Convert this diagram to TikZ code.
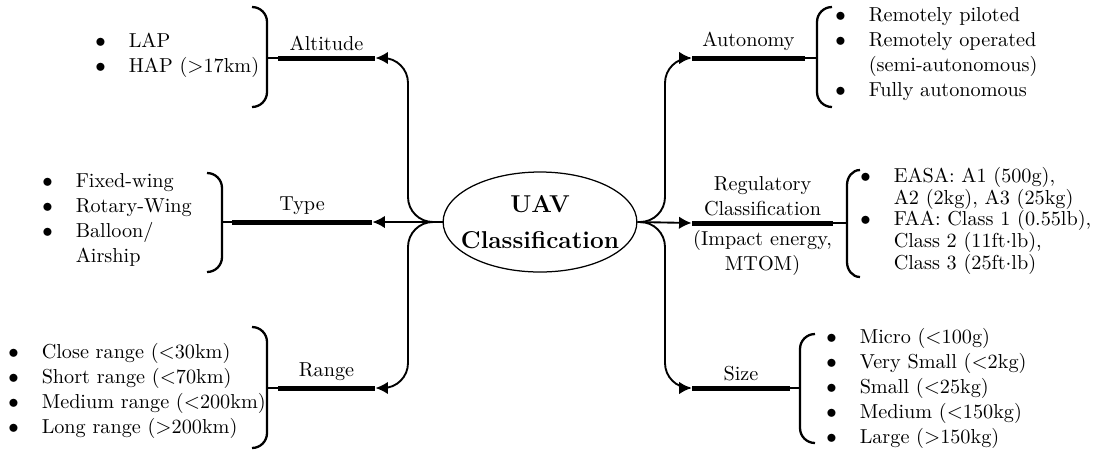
\documentclass[tikz,border=0pt]{standalone}
\usetikzlibrary{shapes.geometric,arrows.meta,positioning}
\begin{document}
\begin{tikzpicture}[x=0.48pt,y=-0.48pt,
  every node/.style={font=\fontsize{9.7}{12}\selectfont},
  hub/.style={ellipse,draw,line width=0.6pt,minimum width=93pt,minimum height=48pt,inner sep=0pt},
  hubtext/.style={align=center,inner sep=0pt,font=\fontsize{11.7}{14}\selectfont\bfseries},
  bar/.style={rectangle,fill=black,draw=none,inner sep=0pt,minimum height=2.4pt},
  conn/.style={line width=0.9pt,-{Latex[length=6pt,width=6pt]},rounded corners=12pt},
  link/.style={line width=0.6pt},
  brace/.style={line width=1.1pt},
  lbl/.style={inner sep=2pt,align=center},
  lst/.style={inner sep=0pt,anchor=west,align=left}]
\useasboundingbox (0,0) rectangle (1096,453);

% central node
\node[hub] (uav) at (540,222) {};
\node[hubtext] (uavtext) at (uav.center) {UAV\\[3pt]Classification};

% category bars
\node[bar,minimum width=46.6pt] (altbar)   at (326.5,58)  {};
\node[bar,minimum width=67.2pt] (typebar)  at (302,222)   {};
\node[bar,minimum width=46.6pt] (rangebar) at (326.5,388) {};
\node[bar,minimum width=54.2pt] (autbar)   at (748.5,58)  {};
\node[bar,minimum width=67.7pt] (regbar)   at (762.5,223) {};
\node[bar,minimum width=47pt]   (sizebar)  at (741,388)   {};

% category labels
\node[lbl,above=0pt of altbar]   (altlbl)   {Altitude};
\node[lbl,above=0pt of typebar]  (typelbl)  {Type};
\node[lbl,above=0pt of rangebar] (rangelbl) {Range};
\node[lbl,above=0pt of autbar]   (autlbl)   {Autonomy};
\node[lbl,above=0pt of regbar]   (reglbl)   {Regulatory\\Classification};
\node[lbl,below=0pt of regbar]   (regsub)   {(Impact energy,\\MTOM)};
\node[lbl,above=0pt of sizebar]  (sizelbl)  {Size};

% turning points of the curved connectors
\coordinate (lv) at (408,222);
\coordinate (rv) at (665,222);

% connectors from the hub
\draw[conn] (uav.west) -- (typebar.east);
\draw[conn] (uav.west) -- (lv) |- (altbar.east);
\draw[conn] (uav.west) -- (lv) |- (rangebar.east);
\draw[conn] (uav.east) -- (regbar.west);
\draw[conn] (uav.east) -- (rv) |- (autbar.west);
\draw[conn] (uav.east) -- (rv) |- (sizebar.west);

% brace tips
\coordinate (altbr)   at (267,58);
\coordinate (typebr)  at (222,222);
\coordinate (rangebr) at (267,388);
\coordinate (autbr)   at (817,58);
\coordinate (regbr)   at (847,223);
\coordinate (sizebr)  at (800,388);

\draw[link] (altbar.west)   -- (altbr);
\draw[link] (typebar.west)  -- (typebr);
\draw[link] (rangebar.west) -- (rangebr);
\draw[link] (autbar.east)   -- (autbr);
\draw[link] (regbar.east)   -- (regbr);
\draw[link] (sizebar.east)  -- (sizebr);

% braces (closing on the left, opening on the right)
\draw[brace] (252,7) to[out=0,in=90] (267,22) -- (267,92) to[out=-90,in=0] (252,107);
\draw[brace] (207,173) to[out=0,in=90] (222,188) -- (222,257) to[out=-90,in=0] (207,272);
\draw[brace] (252,327) to[out=0,in=90] (267,342) -- (267,433) to[out=-90,in=0] (252,448);
\draw[brace] (832,7) to[out=180,in=90] (817,22) -- (817,92) to[out=-90,in=180] (832,107);
\draw[brace] (860,170) to[out=180,in=90] (847,185) -- (847,262) to[out=-90,in=180] (860,277);
\draw[brace] (815,334) to[out=180,in=90] (800,349) -- (800,428) to[out=-90,in=180] (815,443);

% item lists
\node[lst] (altlist) at (95,54.5) {\begin{tabular}{@{}c@{\hspace{11pt}}l@{}}
  $\bullet$ & LAP\\
  $\bullet$ & HAP ($>$17km)
\end{tabular}};
\node[lst] (typelist) at (42,219.5) {\begin{tabular}{@{}c@{\hspace{11pt}}l@{}}
  $\bullet$ & Fixed-wing\\
  $\bullet$ & Rotary-Wing\\
  $\bullet$ & Balloon/\\
            & Airship
\end{tabular}};
\node[lst] (rangelist) at (8,390.5) {\begin{tabular}{@{}c@{\hspace{11pt}}l@{}}
  $\bullet$ & Close range ($<$30km)\\
  $\bullet$ & Short range ($<$70km)\\
  $\bullet$ & Medium range ($<$200km)\\
  $\bullet$ & Long range ($>$200km)
\end{tabular}};
\node[lst] (autlist) at (835,53.5) {\begin{tabular}{@{}c@{\hspace{11pt}}l@{}}
  $\bullet$ & Remotely piloted\\
  $\bullet$ & Remotely operated\\
            & (semi-autonomous)\\
  $\bullet$ & Fully autonomous
\end{tabular}};
\node[lst] (reglist) at (860,221.5) {\def\arraystretch{0.87}\begin{tabular}{@{}c@{\hspace{11pt}}l@{}}
  $\bullet$ & EASA: A1 (500g),\\
            & A2 (2kg), A3 (25kg)\\
  $\bullet$ & FAA: Class 1 (0.55lb),\\
            & Class 2 (11ft$\cdot$lb),\\
            & Class 3 (25ft$\cdot$lb)
\end{tabular}};
\node[lst] (sizelist) at (826,388) {\begin{tabular}{@{}c@{\hspace{11pt}}l@{}}
  $\bullet$ & Micro ($<$100g)\\
  $\bullet$ & Very Small ($<$2kg)\\
  $\bullet$ & Small ($<$25kg)\\
  $\bullet$ & Medium ($<$150kg)\\
  $\bullet$ & Large ($>$150kg)
\end{tabular}};
\end{tikzpicture}
\end{document}
